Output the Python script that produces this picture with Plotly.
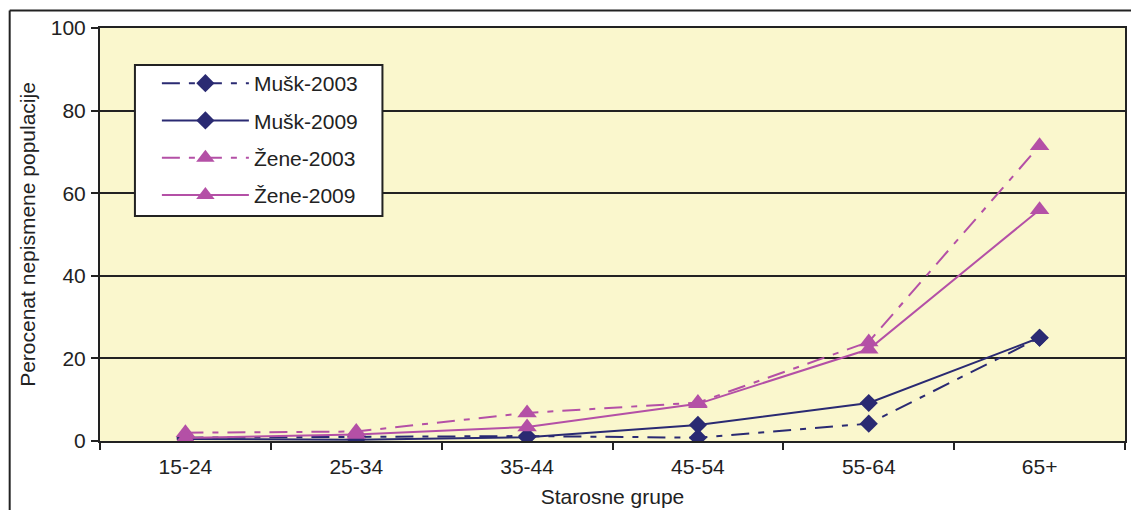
import plotly.graph_objects as go

# Age groups and illiteracy percentages by sex and census year
age_groups = ["15-24", "25-34", "35-44", "45-54", "55-64", "65+"]
musk_2003 = [0.8, 1.0, 1.2, 0.8, 4.2, 25.0]
musk_2009 = [0.5, 0.3, 0.9, 3.9, 9.2, 25.0]
zene_2003 = [2.0, 2.3, 6.8, 9.3, 24.0, 71.5]
zene_2009 = [0.7, 1.6, 3.4, 9.0, 22.2, 56.0]
y_ticks = [0, 20, 40, 60, 80, 100]

NAVY = "#2A2A72"
MAGENTA = "#B450A6"
INK = "#222222"
FONT = "Liberation Sans, Arial, sans-serif"
DASHDOT = "18px,9px,6px,9px"
FS = 21

W, H = 1131, 510
ML, MR, MT, MB = 100, 4, 28, 69
PW, PH = W - ML - MR, H - MT - MB


def px_x(px):
    return (px - ML) / PW


def px_y(py):
    return (H - MB - py) / PH


series = [
    ("Mušk-2003", musk_2003, NAVY, DASHDOT, "diamond", 14),
    ("Mušk-2009", musk_2009, NAVY, "solid", "diamond", 14),
    ("Žene-2003", zene_2003, MAGENTA, DASHDOT, "triangle-up", 17),
    ("Žene-2009", zene_2009, MAGENTA, "solid", "triangle-up", 17),
]

fig = go.Figure()
for name, vals, color, dash, symbol, size in series:
    fig.add_trace(go.Scatter(
        x=age_groups, y=vals, name=name, mode="lines+markers",
        legendgroup=name,
        line=dict(color=color, width=2, dash=dash),
        marker=dict(symbol=symbol, size=size, color=color, line=dict(width=0)),
    ))

# outer chart frame (left and top edges visible)
fig.add_shape(type="line", xref="paper", yref="paper",
              x0=px_x(9.5), x1=px_x(W + 5), y0=px_y(10.5), y1=px_y(10.5),
              line=dict(color=INK, width=2))
fig.add_shape(type="line", xref="paper", yref="paper",
              x0=px_x(9.5), x1=px_x(9.5), y0=px_y(10.5), y1=px_y(H + 5),
              line=dict(color=INK, width=2))
# white legend panel with border
fig.add_shape(type="rect", xref="paper", yref="paper", layer="above",
              x0=px_x(135), x1=px_x(383), y0=px_y(65), y1=px_y(216),
              fillcolor="white", line=dict(color=INK, width=2))

fig.update_layout(
    width=W, height=H,
    margin=dict(l=ML, r=MR, t=MT, b=MB, pad=0),
    paper_bgcolor="white",
    plot_bgcolor="#FAF7CD",
    font=dict(family=FONT, size=FS, color=INK),
    showlegend=True,
    legend=dict(
        x=px_x(157), y=px_y(63), xanchor="left", yanchor="top",
        bgcolor="rgba(0,0,0,0)", borderwidth=0,
        font=dict(family=FONT, size=FS, color=INK),
        tracegroupgap=7, itemwidth=87,
        traceorder="grouped",
    ),
    xaxis=dict(
        type="category", range=[-0.5, 5.5],
        showline=True, linecolor=INK, linewidth=2, mirror=True,
        ticks="outside", tickson="boundaries", ticklen=7, tickwidth=2,
        tickcolor=INK, showgrid=False, ticklabelstandoff=6,
        title=dict(text="Starosne grupe", standoff=12,
                   font=dict(family=FONT, size=FS, color=INK)),
    ),
    yaxis=dict(
        range=[0, 100], tickvals=y_ticks,
        showline=True, linecolor=INK, linewidth=2, mirror=True,
        ticks="outside", ticklen=7, tickwidth=2, tickcolor=INK,
        showgrid=True, gridcolor=INK, gridwidth=2, zeroline=False,
        ticklabelstandoff=1,
        title=dict(text="Perocenat nepismene populacije", standoff=9,
                   font=dict(family=FONT, size=FS, color=INK)),
    ),
)

fig.write_html("out.html")
